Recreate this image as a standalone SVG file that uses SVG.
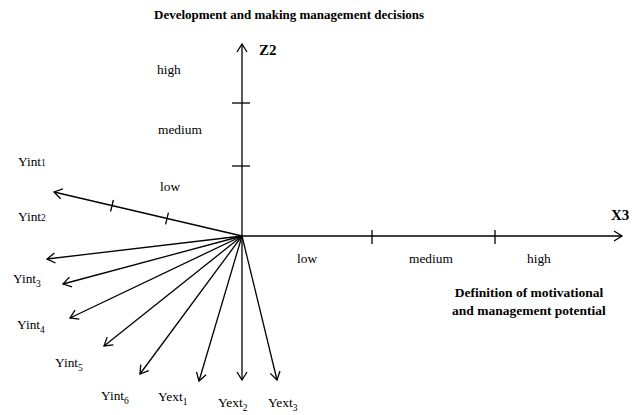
<svg xmlns="http://www.w3.org/2000/svg" width="643" height="415" viewBox="0 0 643 415" font-family="'Liberation Serif', 'Times New Roman', 'DejaVu Serif', serif">
<defs>
<style>
text{font-family:'Liberation Serif','Times New Roman','DejaVu Serif',serif;fill:#000}
.t{font-size:13.4px}
.b{font-weight:bold;font-size:13.5px}
.bt{font-weight:bold;font-size:13px}
.ax{font-weight:bold;font-size:15px}
.s{font-size:9.5px}
.ln{stroke:#000;stroke-width:1.3;fill:none}
.arr{stroke:#000;stroke-width:1.3;fill:none;marker-end:url(#ah)}
</style>
<marker id="ah" viewBox="-10 -6 12 12" markerWidth="12" markerHeight="12" refX="0" refY="0" orient="auto" markerUnits="userSpaceOnUse">
<path d="M-8,-5 L0,0 L-8,5" fill="none" stroke="#000" stroke-width="1.3"/>
</marker>
</defs>
<rect width="643" height="415" fill="#fff"/>
<g id="title"><text class="bt" x="154" y="19">Development and making management decisions</text></g>
<g id="axis-z2">
<line class="arr" x1="242" y1="236" x2="242" y2="44"/>
<line class="ln" x1="232" y1="103" x2="250" y2="103"/>
<line class="ln" x1="232" y1="166" x2="250" y2="166"/>
<text class="ax" x="259" y="55">Z2</text>
<text class="t" x="157" y="74">high</text>
<text class="t" x="158" y="134">medium</text>
<text class="t" x="160" y="191">low</text>
</g>
<g id="axis-x3">
<line class="arr" x1="242" y1="236" x2="622" y2="236"/>
<line class="ln" x1="372" y1="230" x2="372" y2="244"/>
<line class="ln" x1="495" y1="230" x2="495" y2="244"/>
<text class="ax" x="611" y="220">X3</text>
<text class="t" x="297" y="263">low</text>
<text class="t" x="409" y="263">medium</text>
<text class="t" x="527" y="263">high</text>
</g>
<g id="definition">
<text class="b" x="529" y="297" text-anchor="middle">Definition of motivational</text>
<text class="b" x="529" y="315" text-anchor="middle">and management potential</text>
</g>
<g id="connectors">
<line class="arr" x1="242" y1="236" x2="54" y2="192"/>
<line class="ln" x1="113.4" y1="200" x2="110.6" y2="211.5"/>
<line class="ln" x1="168.4" y1="212.7" x2="165.6" y2="224.3"/>
<line class="arr" x1="242" y1="236" x2="47" y2="259"/>
<line class="arr" x1="242" y1="236" x2="63" y2="284"/>
<line class="arr" x1="242" y1="236" x2="70" y2="318"/>
<line class="arr" x1="242" y1="236" x2="104" y2="346"/>
<line class="arr" x1="242" y1="236" x2="140" y2="374"/>
<line class="arr" x1="242" y1="236" x2="199" y2="381"/>
<line class="arr" x1="242" y1="236" x2="242" y2="380"/>
<line class="arr" x1="242" y1="236" x2="277" y2="380"/>
</g>
<g id="yint1"><text class="t" x="18" y="166">Yint<tspan class="s">1</tspan></text></g>
<g id="yint2"><text class="t" x="18" y="221">Yint<tspan class="s">2</tspan></text></g>
<g id="yint3"><text class="t" x="13" y="283">Yint<tspan class="s" dy="4">3</tspan></text></g>
<g id="yint4"><text class="t" x="17" y="329">Yint<tspan class="s" dy="4">4</tspan></text></g>
<g id="yint5"><text class="t" x="55" y="367">Yint<tspan class="s" dy="4">5</tspan></text></g>
<g id="yint6"><text class="t" x="101" y="400">Yint<tspan class="s" dy="4">6</tspan></text></g>
<g id="yext1"><text class="t" x="158" y="401">Yext<tspan class="s" dy="4">1</tspan></text></g>
<g id="yext2"><text class="t" x="218" y="407">Yext<tspan class="s" dy="4">2</tspan></text></g>
<g id="yext3"><text class="t" x="268" y="407">Yext<tspan class="s" dy="4">3</tspan></text></g>
</svg>
